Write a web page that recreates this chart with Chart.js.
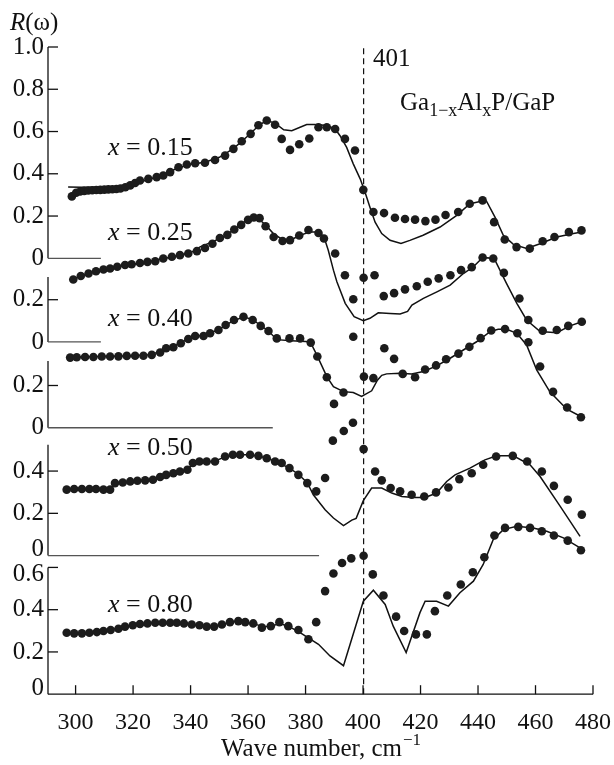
<!DOCTYPE html>
<html>
<head>
<meta charset="utf-8">
<script src="https://cdn.jsdelivr.net/npm/chart.js@4.4.0/dist/chart.umd.min.js"></script>
<style>
  html, body { margin: 0; padding: 0; background: #fff; }
  canvas { display: block; }
</style>
</head>
<body>
<canvas id="my" width="614" height="765"></canvas>
<script>
// measured reflectance R(w), x = Al content
var dotW15 = [298.7,300.2,301.6,303.0,304.4,305.8,307.2,308.6,310.0,311.4,312.8,314.2,315.6,317.3,319.0,320.7,322.4,325.3,328.2,330.5,332.9,335.8,338.7,341.6,345.0,348.5,352.0,354.9,357.8,360.9,363.6,366.5,369.4,371.7,374.6,377.8,381.3,384.5,387.4,390.3,393.7,397.2,400.1,403.6,407.3,411.1,414.6,418.1,421.7,425.2,428.7,433.1,437.1,441.6,445.6,449.3,453.4,458.0,462.5,466.6,471.6,476.0];
var dotR15 = [0.293,0.310,0.316,0.319,0.321,0.322,0.323,0.324,0.325,0.326,0.327,0.328,0.330,0.336,0.345,0.356,0.368,0.376,0.384,0.392,0.408,0.431,0.444,0.450,0.452,0.465,0.486,0.518,0.554,0.589,0.630,0.652,0.632,0.565,0.513,0.540,0.567,0.620,0.620,0.612,0.565,0.510,0.324,0.219,0.214,0.192,0.186,0.183,0.176,0.183,0.205,0.219,0.258,0.274,0.171,0.089,0.053,0.046,0.081,0.101,0.124,0.132];
var fitW15 = [297.4,302,307,312,316,320,325,330,335,340,345,350,355,360,364,366.5,369.4,372.4,375.2,378.1,380.4,383.3,387.4,390.3,392.0,394.3,396.6,399.0,400.7,402.4,404.2,406.5,409.4,413.2,416.3,420.9,426.8,432.6,437.2,440.7,443.0,445.9,448.8,452.3,456.9,461.6,467.4,473.2,476.1];
var fitR15 = [0.337,0.336,0.336,0.338,0.340,0.350,0.372,0.390,0.425,0.445,0.455,0.478,0.520,0.580,0.632,0.652,0.640,0.608,0.604,0.620,0.633,0.633,0.628,0.612,0.580,0.525,0.447,0.376,0.313,0.242,0.171,0.117,0.085,0.070,0.085,0.109,0.148,0.203,0.258,0.269,0.269,0.195,0.109,0.066,0.046,0.069,0.101,0.117,0.124];

var dotW25 = [299.2,301.8,304.5,307.1,309.7,312.0,314.5,317.2,319.5,322.4,325.0,327.7,330.5,333.5,336.3,339.2,342.2,345.0,347.6,350.2,352.8,355.2,357.6,360.0,362.0,364.0,366.1,368.9,372.0,374.6,377.8,381.0,384.5,386.4,390.3,393.7,396.6,400.2,404.0,407.2,410.8,414.6,418.7,422.5,426.3,430.4,434.1,437.8,441.6,445.3,449.0,454.4,457.5,462.5,467.4,471.4,476.1];
var dotR25 = [0.296,0.312,0.324,0.335,0.343,0.348,0.356,0.364,0.368,0.374,0.379,0.382,0.395,0.403,0.411,0.419,0.430,0.445,0.465,0.492,0.507,0.532,0.554,0.578,0.589,0.586,0.548,0.497,0.478,0.482,0.504,0.530,0.516,0.490,0.419,0.316,0.202,0.304,0.316,0.217,0.231,0.249,0.264,0.285,0.301,0.316,0.340,0.354,0.400,0.395,0.327,0.206,0.104,0.053,0.057,0.076,0.096];
var fitW25 = [299.2,305,310,315,320,325,330,335,340,343.3,348,352,356,360,362.4,365.9,368.8,372.3,375.2,378.1,381.6,384.5,386.4,387.9,389.7,390.9,393.8,396.9,400.1,402.4,405.3,409.4,412.9,415.5,417.0,421.0,425.7,430.3,434.9,438.4,441.3,443.5,445.9,449.9,453.5,456.9,461.6,467.4,472.0,476.1];
var fitR25 = [0.298,0.327,0.344,0.357,0.369,0.379,0.393,0.407,0.422,0.450,0.476,0.503,0.540,0.582,0.595,0.557,0.513,0.482,0.485,0.505,0.521,0.521,0.497,0.434,0.340,0.285,0.183,0.120,0.101,0.112,0.138,0.135,0.132,0.145,0.175,0.206,0.237,0.269,0.324,0.356,0.395,0.398,0.387,0.277,0.183,0.104,0.049,0.044,0.076,0.096];

var dotW40 = [298.1,300.4,303.3,306.2,309.1,312.0,314.9,317.8,320.7,323.6,326.5,329.4,331.5,334.0,336.6,339.2,341.6,344.5,346.8,349.7,352.2,355.1,358.4,361.6,364.4,367.1,370.0,374.4,378.1,381.8,384.1,387.4,389.9,393.2,396.6,400.3,403.6,407.4,410.8,413.8,418.1,421.6,425.4,428.9,433.2,437.0,440.9,444.6,449.4,453.7,457.5,461.6,466.1,471.0,475.8];
var dotR40 = [0.332,0.334,0.335,0.335,0.337,0.337,0.338,0.340,0.341,0.341,0.345,0.356,0.376,0.381,0.400,0.420,0.434,0.434,0.447,0.463,0.486,0.510,0.525,0.510,0.482,0.458,0.423,0.423,0.423,0.403,0.337,0.239,0.113,0.167,0.431,0.242,0.235,0.376,0.326,0.255,0.239,0.276,0.295,0.324,0.351,0.383,0.424,0.460,0.467,0.447,0.405,0.290,0.170,0.096,0.050];
var fitW40 = [298.1,305,312,320,326,330,334,338,342,346,350,354,358.4,361.6,364.4,367.1,370.0,375,381.6,383.9,387.4,389.7,393.2,396.6,399.5,403.0,405.0,406.5,408.2,412.9,416.9,421.0,425.6,430.3,434.9,439.5,444.2,447,450.0,453.5,456.9,460.4,465,470.9,476.1];
var fitR40 = [0.334,0.336,0.338,0.341,0.345,0.365,0.384,0.412,0.432,0.443,0.466,0.500,0.525,0.512,0.484,0.458,0.417,0.412,0.407,0.345,0.242,0.195,0.171,0.167,0.148,0.175,0.225,0.248,0.255,0.258,0.255,0.266,0.293,0.329,0.368,0.407,0.455,0.466,0.466,0.447,0.392,0.274,0.170,0.088,0.051];

var dotW50 = [296.9,299.5,302.2,304.8,307.1,309.7,312.0,313.7,316.4,319.0,321.5,324.2,326.9,329.4,331.5,334.0,336.3,338.9,340.8,343.1,345.6,348.5,352.0,354.7,357.2,360.7,363.6,366.5,369.4,371.7,374.4,377.5,380.6,383.7,386.8,389.5,393.3,396.5,400.2,404.2,406.5,409.6,412.9,416.9,421.3,425.4,429.7,433.5,437.8,441.8,446.3,452.1,457.1,462.2,466.4,471.2,476.1];
var dotR50 = [0.312,0.315,0.315,0.315,0.315,0.312,0.312,0.343,0.346,0.351,0.354,0.356,0.359,0.372,0.382,0.390,0.398,0.406,0.438,0.445,0.445,0.445,0.469,0.477,0.477,0.477,0.472,0.461,0.445,0.438,0.414,0.382,0.343,0.304,0.367,0.544,0.590,0.629,0.504,0.398,0.356,0.320,0.304,0.288,0.280,0.299,0.322,0.362,0.390,0.430,0.469,0.472,0.445,0.398,0.330,0.264,0.194];
var fitW50 = [296.9,312,313.7,327,331,338.9,340.8,348.5,352,356,361,365,369.4,374.4,377.5,380.6,382.7,386.8,389.7,393.2,396.1,397.6,400.1,403.0,406.5,410.0,413.5,417.5,421.6,425.6,429.1,432.0,437.2,442.4,446.5,452.3,458.1,461.6,468.6,475.5];
var fitR50 = [0.314,0.314,0.340,0.360,0.380,0.406,0.436,0.447,0.468,0.477,0.477,0.467,0.447,0.414,0.385,0.345,0.288,0.217,0.178,0.142,0.168,0.176,0.260,0.320,0.320,0.296,0.280,0.275,0.275,0.296,0.351,0.382,0.414,0.453,0.472,0.472,0.430,0.374,0.233,0.091];

var dotW80 = [296.9,299.5,302.2,304.8,307.4,309.7,312.2,314.9,317.2,319.9,322.4,325.0,327.7,330.3,332.9,335.2,337.7,340.4,343.1,345.6,348.2,350.9,353.7,356.6,359.0,361.8,364.8,367.9,370.9,374.0,377.5,381.0,383.7,386.8,389.7,392.7,395.9,400.2,403.4,407.1,411.5,414.3,418.4,422.2,425.0,429.3,434.0,438.2,442.2,445.7,449.4,454.0,458.1,462.2,466.4,471.2,475.8];
var dotR80 = [0.291,0.288,0.288,0.291,0.294,0.299,0.304,0.310,0.320,0.326,0.332,0.335,0.338,0.338,0.338,0.338,0.335,0.330,0.326,0.320,0.320,0.330,0.341,0.346,0.341,0.335,0.315,0.322,0.341,0.322,0.304,0.260,0.341,0.488,0.571,0.621,0.643,0.655,0.567,0.467,0.367,0.299,0.283,0.283,0.393,0.467,0.519,0.577,0.648,0.751,0.787,0.792,0.787,0.771,0.751,0.727,0.681];
var fitW80 = [296.9,302,307,312,317,322,327,335,340,345,348,351,354,356.6,359,362,365,368,371,374,378.1,384.5,388.5,393.2,400.1,403.6,407.7,410.5,415.0,419.8,421.6,425.6,429.7,433.7,438.4,441.8,445.3,448.8,453.5,459.2,463.9,469.7,475.5];
var fitR80 = [0.291,0.290,0.294,0.304,0.320,0.332,0.338,0.338,0.330,0.321,0.320,0.330,0.341,0.346,0.341,0.334,0.320,0.322,0.335,0.322,0.291,0.236,0.181,0.135,0.440,0.492,0.425,0.322,0.197,0.386,0.440,0.440,0.417,0.480,0.535,0.614,0.732,0.779,0.795,0.787,0.771,0.740,0.693];

var compositions = ['0.15', '0.25', '0.40', '0.50', '0.80'];
var yTicks15 = [0, 0.2, 0.4, 0.6, 0.8, 1.0];
var yTicks25 = [0, 0.2];
var yTicks40 = [0, 0.2];
var yTicks50 = [0, 0.2, 0.4];
var yTicks80 = [0, 0.2, 0.4, 0.6];
var xTicks = [300, 320, 340, 360, 380, 400, 420, 440, 460, 480];
var markW = 400.2;

// panel layout: vertical shift of each panel, height of its axis, end of its zero line
var panels = [
  {dw: dotW15, dr: dotR15, fw: fitW15, fr: fitR15, ticks: yTicks15, shift: 2.063, axisTop: 1.0, zeroEnd: 308.8, nudge: {}, labelY: 155},
  {dw: dotW25, dr: dotR25, fw: fitW25, fr: fitR25, ticks: yTicks25, shift: 1.667, axisTop: 0.307, zeroEnd: 308.8, nudge: {}, labelY: 240},
  {dw: dotW40, dr: dotR40, fw: fitW40, fr: fitR40, ticks: yTicks40, shift: 1.261, axisTop: 0.316, zeroEnd: 368.6, nudge: {}, labelY: 326},
  {dw: dotW50, dr: dotR50, fw: fitW50, fr: fitR50, ticks: yTicks50, shift: 0.656, axisTop: 0.524, zeroEnd: 384.7, nudge: {0: -6}, labelY: 455},
  {dw: dotW80, dr: dotR80, fw: fitW80, fr: fitR80, ticks: yTicks80, shift: 0, axisTop: 0.6, zeroEnd: null, nudge: {0: -6, 0.6: 7}, labelY: 612}
];

var serif = '"Liberation Serif", "Times New Roman", serif';
var datasets = [];
panels.forEach(function (p) {
  datasets.push({
    data: p.dw.map(function (w, i) { return {x: w, y: p.dr[i] + p.shift}; }),
    pointRadius: 4.3, pointBackgroundColor: '#1c1c1c', pointBorderWidth: 0,
    showLine: false, order: 0
  });
  datasets.push({
    data: p.fw.map(function (w, i) { return {x: w, y: p.fr[i] + p.shift}; }),
    showLine: true, pointRadius: 0, borderColor: '#111', borderWidth: 1.5,
    tension: 0, order: 1
  });
});
datasets.push({
  data: [{x: markW, y: 0}, {x: markW, y: 3.063}],
  showLine: true, pointRadius: 0, borderColor: '#111', borderWidth: 1.2,
  borderDash: [6, 4], order: 2
});

function line(c, x1, y1, x2, y2) {
  c.beginPath(); c.moveTo(x1, y1); c.lineTo(x2, y2); c.stroke();
}

var frame = {
  id: 'frame',
  afterDraw: function (chart) {
    var c = chart.ctx, xs = chart.scales.x, ys = chart.scales.y;
    var left = chart.chartArea.left, right = chart.chartArea.right, bottom = chart.chartArea.bottom;
    c.save();
    c.lineWidth = 1.3;
    c.font = '25px ' + serif;
    c.textAlign = 'right';
    c.textBaseline = 'middle';
    panels.forEach(function (p) {
      var base = ys.getPixelForValue(p.shift);
      c.strokeStyle = '#111';
      line(c, left, base, left, ys.getPixelForValue(p.shift + p.axisTop));
      p.ticks.forEach(function (t) {
        var y = ys.getPixelForValue(p.shift + t);
        if (t > 0) line(c, left, y, left + 10, y);
        c.fillStyle = '#111';
        c.fillText(t === 0 ? '0' : t.toFixed(1), left - 4, y + (p.nudge[t] || 0));
      });
      if (p.zeroEnd) {
        c.strokeStyle = '#555';
        line(c, left, base, xs.getPixelForValue(p.zeroEnd), base);
      }
    });
    // x axis with inward ticks
    c.strokeStyle = '#111';
    line(c, left, bottom, right, bottom);
    xTicks.forEach(function (v) {
      var x = xs.getPixelForValue(v);
      line(c, x, bottom, x, bottom - 9);
    });

    c.fillStyle = '#111';
    c.textAlign = 'left';
    c.textBaseline = 'alphabetic';
    // panel labels
    panels.forEach(function (p, i) {
      c.font = 'italic 26px ' + serif;
      c.fillText('x', 108, p.labelY);
      var w = c.measureText('x').width;
      c.font = '26px ' + serif;
      c.fillText(' = ' + compositions[i], 108 + w, p.labelY);
    });
    // R(w)
    c.font = 'italic 25px ' + serif;
    c.fillText('R', 10, 30);
    var rw = c.measureText('R').width;
    c.font = '25px ' + serif;
    c.fillText('(\u03c9)', 10 + rw, 30);
    // 401 marker
    c.fillText('401', 373, 66);
    // Ga1-xAlxP/GaP
    var parts = [['Ga', 0], ['1\u2212x', 1], ['Al', 0], ['x', 1], ['P/GaP', 0]];
    var gx = 400;
    parts.forEach(function (q) {
      c.font = (q[1] ? '18px ' : '25px ') + serif;
      c.fillText(q[0], gx, q[1] ? 116 : 110);
      gx += c.measureText(q[0]).width;
    });
    // axis title
    c.font = '25px ' + serif;
    var t1 = 'Wave number, cm';
    var w1 = c.measureText(t1).width;
    c.font = '17px ' + serif;
    var w2 = c.measureText('\u22121').width;
    var tx = (left + right) / 2 - (w1 + w2) / 2;
    c.font = '25px ' + serif;
    c.fillText(t1, tx, 756);
    c.font = '17px ' + serif;
    c.fillText('\u22121', tx + w1 + 1, 745);
    c.restore();
  }
};

new Chart(document.getElementById('my').getContext('2d'), {
  type: 'scatter',
  data: { datasets: datasets },
  options: {
    responsive: false,
    animation: false,
    devicePixelRatio: 1,
    layout: { padding: { left: 48, top: 47, right: 21, bottom: 14 } },
    plugins: { legend: { display: false }, tooltip: { enabled: false } },
    scales: {
      x: {
        type: 'linear', min: 290.4, max: 480,
        afterBuildTicks: function (s) { s.ticks = xTicks.map(function (v) { return {value: v}; }); },
        afterFit: function (s) { s.paddingLeft = 0; s.paddingRight = 0; },
        grid: { display: false, drawTicks: false },
        border: { display: false },
        ticks: { padding: 14, color: '#111', autoSkip: false, maxRotation: 0,
                 font: { family: serif, size: 24 },
                 callback: function (v) { return v; } }
      },
      y: { display: false, min: 0, max: 3.063 }
    }
  },
  plugins: [frame]
});
</script>
</body>
</html>
